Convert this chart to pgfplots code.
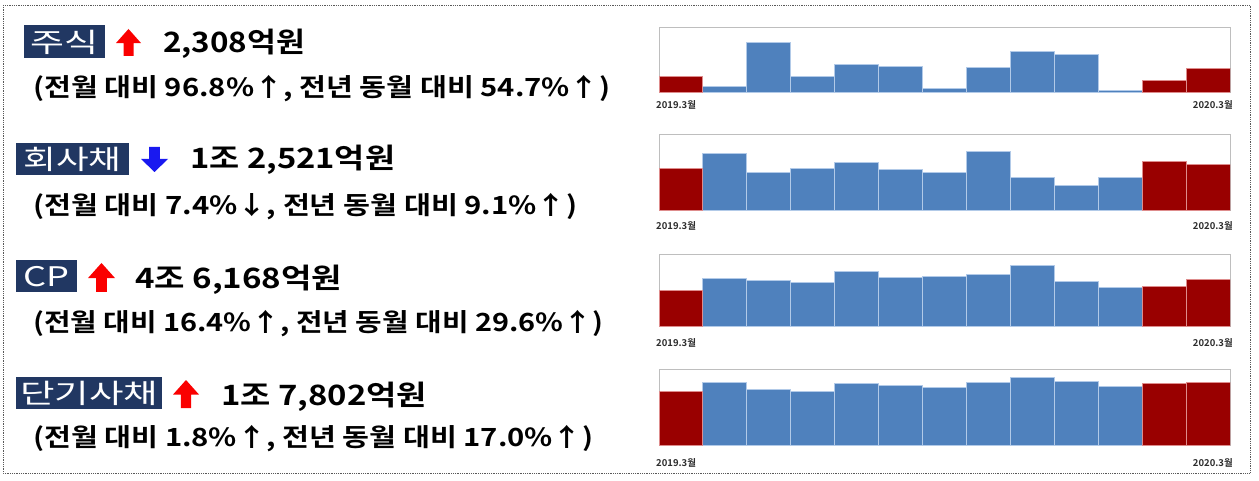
\documentclass[border=0pt]{standalone}
\usepackage{pgfplots}
\pgfplotsset{compat=1.18}
\usepackage{fontspec}
\newfontfamily\kr{Noto Sans CJK KR}[BoldFont={Noto Sans CJK KR Bold}]
\definecolor{navy}{RGB}{33,55,98}
\definecolor{barblue}{RGB}{79,129,189}
\definecolor{barred}{RGB}{153,0,0}
\definecolor{edgeblue}{RGB}{178,202,232}
\definecolor{edgered}{RGB}{222,140,140}
\definecolor{framegray}{RGB}{190,190,190}
\definecolor{arrred}{RGB}{250,0,0}
\definecolor{arrblue}{RGB}{25,25,240}

% x, baseline y, width, size, text
\newcommand\txt[5]{\node[anchor=base west, inner sep=0pt] at (#1,#2)
  {\resizebox{#3pt}{\height}{\kr\bfseries\fontsize{#4}{#4}\selectfont #5}};}
% x1,y1,x2,y2,text,textwidth
\newcommand\lbl[6]{\fill[navy] (#1,#2) rectangle (#3,#4);
  \node[anchor=base, inner sep=0pt, text=white] at ({(#1+#3)/2},{#4-5.5})
  {\resizebox{#6pt}{\height}{\kr\fontsize{27}{27}\selectfont #5}};}
% up arrow: xl, xr, ytop, ybottom, colour
\newcommand\uparr[5]{\fill[#5] ({(#1+#2)/2},#3) -- (#2,{#3+0.52*(#4-#3)})
  -- ({(#1+#2)/2+0.2*(#2-#1)},{#3+0.52*(#4-#3)}) -- ({(#1+#2)/2+0.2*(#2-#1)},#4)
  -- ({(#1+#2)/2-0.2*(#2-#1)},#4) -- ({(#1+#2)/2-0.2*(#2-#1)},{#3+0.52*(#4-#3)})
  -- (#1,{#3+0.52*(#4-#3)}) -- cycle;}
\newcommand\downarr[5]{\fill[#5] ({(#1+#2)/2},#4) -- (#2,{#4-0.52*(#4-#3)})
  -- ({(#1+#2)/2+0.2*(#2-#1)},{#4-0.52*(#4-#3)}) -- ({(#1+#2)/2+0.2*(#2-#1)},#3)
  -- ({(#1+#2)/2-0.2*(#2-#1)},#3) -- ({(#1+#2)/2-0.2*(#2-#1)},{#4-0.52*(#4-#3)})
  -- (#1,{#4-0.52*(#4-#3)}) -- cycle;}

\pgfplotsset{
  minichart/.style={
    scale only axis, width=571pt, anchor=south west,
    xmin=-0.5, xmax=12.5, ymin=0,
    xtick=\empty, ytick=\empty,
    axis line style={framegray, line width=1pt},
  },
  bluebars/.style={ybar, bar width=1, bar shift=0pt, fill=barblue, draw=edgeblue, line width=1pt},
  redbars/.style={ybar, bar width=1, bar shift=0pt, fill=barred, draw=edgered, line width=1pt},
}
\newcommand\datelbl[1]{%
  \node[anchor=base west, inner sep=0pt, text={rgb,255:red,45;green,45;blue,45}] at (656,#1)
    {\kr\bfseries\fontsize{9.5}{10}\selectfont 2019.3월};
  \node[anchor=base east, inner sep=0pt, text={rgb,255:red,45;green,45;blue,45}] at (1233,#1)
    {\kr\bfseries\fontsize{9.5}{10}\selectfont 2020.3월};}

\begin{document}
\begin{tikzpicture}[x=1pt, y=-1pt]
\path[use as bounding box] (0,0) rectangle (1259,481);
\fill[white] (0,0) rectangle (1259,481);
\draw[dash pattern=on 0.9pt off 0.9pt, line width=0.9pt, black!65] (3,5) rectangle (1250,473);

% ---------- left text ----------
\lbl{24}{25}{105}{58}{주식}{68}
\uparr{116}{141}{29}{56}{arrred}
\txt{163}{53}{142}{28}{2,308억원}
\txt{33}{96.5}{577}{25}{(전월 대비 96.8\%↑, 전년 동월 대비 54.7\%↑)}

\lbl{16}{143}{129}{175}{회사채}{98}
\downarr{141}{168}{147}{172}{arrblue}
\txt{190}{169}{205}{28}{1조 2,521억원}
\txt{33}{215}{544}{25}{(전월 대비 7.4\%↓, 전년 동월 대비 9.1\%↑)}

\lbl{16}{260}{77}{292}{CP}{46}
\uparr{88}{115}{263}{292}{arrred}
\txt{135}{288}{207}{28}{4조 6,168억원}
\txt{33}{331.5}{570}{25}{(전월 대비 16.4\%↑, 전년 동월 대비 29.6\%↑)}

\lbl{16}{377}{162}{409}{단기사채}{138}
\uparr{173}{199}{380}{408}{arrred}
\txt{221}{405}{206}{28}{1조 7,802억원}
\txt{33}{446.5}{560}{25}{(전월 대비 1.8\%↑, 전년 동월 대비 17.0\%↑)}

% ---------- mini charts ----------
\begin{axis}[minichart, at={(659pt,-92.3pt)}, height=64.6pt, ymax=6190]
\addplot[bluebars] coordinates {(1,520) (2,4810) (3,1510) (4,2662) (5,2476) (6,322) (7,2340) (8,3912) (9,3621) (10,161)};
\addplot[redbars] coordinates {(0,1492) (11,1173) (12,2308)};
\end{axis}
\datelbl{109}

\begin{axis}[minichart, at={(659pt,-210.7pt)}, height=75.7pt, ymax=20600]
\addplot[bluebars] coordinates {(1,15615) (2,10341) (3,11351) (4,13246) (5,11165) (6,10527) (7,16150) (8,9064) (9,6798) (10,8899)};
\addplot[redbars] coordinates {(0,11477) (11,13522) (12,12521)};
\end{axis}
\datelbl{230}

\begin{axis}[minichart, at={(659pt,-326.7pt)}, height=72.4pt, ymax=71000]
\addplot[bluebars] coordinates {(1,46790) (2,45511) (3,43523) (4,53676) (5,48067) (6,49700) (7,51049) (8,59853) (9,44162) (10,38624)};
\addplot[redbars] coordinates {(0,35623) (11,39663) (12,46168)};
\end{axis}
\datelbl{346.5}

\begin{axis}[minichart, at={(659pt,-445pt)}, height=75.5pt, ymax=21500]
\addplot[bluebars] coordinates {(1,17800) (2,15717) (3,15158) (4,17609) (5,16856) (6,16491) (7,17716) (8,19329) (9,18082) (10,16577)};
\addplot[redbars] coordinates {(0,15215) (11,17487) (12,17802)};
\end{axis}
\datelbl{466}
\end{tikzpicture}
\end{document}
